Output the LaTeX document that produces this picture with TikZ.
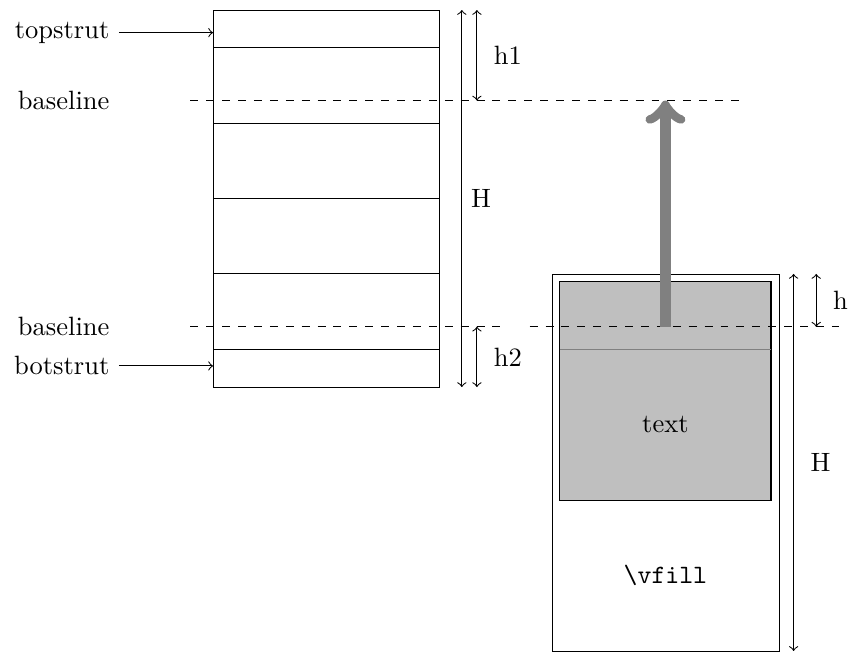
\documentclass[tikz,border=0pt]{standalone}
\usepackage{tikz}
\usetikzlibrary{arrows,positioning,calc}

\begin{document}
\begin{tikzpicture}[>=to]
\useasboundingbox (-2.825cm,0.133cm) rectangle (8.448cm,-8.528cm);
% left column with struts
\node[draw,black,minimum width=3cm,minimum height=5cm,inner sep=0pt,anchor=north west] (column) at (0cm,0cm) {};
\foreach \y in {0.5,1.5,2.5,3.5,4.5}
  \draw[black] (0cm,-\y cm) -- (3cm,-\y cm);
\node[left] (topstrut) at (-1.25cm,-0.3cm) {topstrut};
\node[left] (baseA) at (-1.25cm,-1.2cm) {baseline};
\node[left] (baseB) at (-1.25cm,-4.2cm) {baseline};
\node[left] (botstrut) at (-1.25cm,-4.72cm) {botstrut};
\draw[->] (topstrut) -- (topstrut -| column.west);
\draw[->] (botstrut) -- (botstrut -| column.west);
% right column
\node[draw,black,minimum width=3cm,minimum height=5cm,inner sep=0pt,anchor=north west] (page) at (4.5cm,-3.5cm) {};
\draw[black,fill=lightgray] (4.6cm,-3.6cm) rectangle (7.4cm,-6.5cm);
\draw[gray] (4.6cm,-4.5cm) -- (7.4cm,-4.5cm);
\node (text) at (6cm,-5.5cm) {text};
\node (vfill) at (6cm,-7.5cm) {\texttt{\textbackslash vfill}};
% baselines
\draw[dashed] (-0.3cm,-1.2cm) -- (7cm,-1.2cm);
\draw[dashed] (-0.3cm,-4.2cm) -- (3.8cm,-4.2cm);
\draw[dashed] (4.2cm,-4.2cm) -- (8.3cm,-4.2cm);
% heights
\draw[<->] (3.3cm,0cm) -- node[right]{H} (3.3cm,-5cm);
\draw[<->] (3.5cm,0cm) -- node[right=1mm]{h1} (3.5cm,-1.2cm);
\draw[<->] (3.5cm,-4.2cm) -- node[right=1mm]{h2} (3.5cm,-5cm);
\draw[<->] (7.7cm,-3.5cm) -- node[right=1mm]{H} (7.7cm,-8.5cm);
\draw[<->] (8cm,-3.5cm) -- node[right=1mm]{h} (8cm,-4.2cm);
% shift
\draw[->,gray,line width=4pt] (6cm,-4.2cm) -- (6cm,-1.2cm);
\end{tikzpicture}
\end{document}
